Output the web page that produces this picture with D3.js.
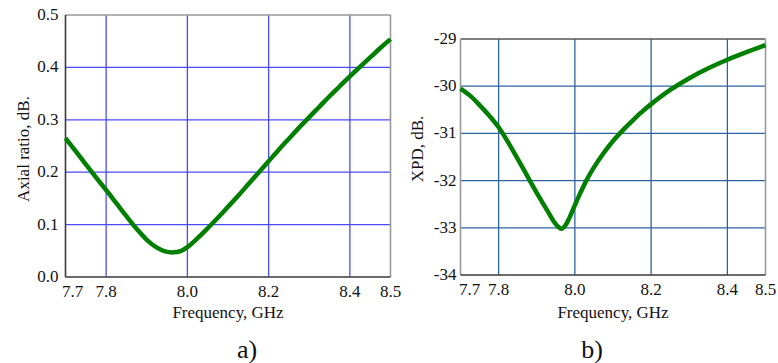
<!DOCTYPE html>
<html>
<head>
<meta charset="utf-8">
<script src="https://cdn.jsdelivr.net/npm/d3@7"></script>
<style>
  body { margin: 0; background: #fff; }
  svg text { font-family: "Liberation Serif", "DejaVu Serif", serif; fill: #111; }
</style>
</head>
<body>
<svg id="chart" width="778" height="363"></svg>
<script>
// frequency grid, GHz
const freqAR = [7.7, 7.725, 7.75, 7.775, 7.8, 7.825, 7.85, 7.875, 7.9, 7.925, 7.945, 7.965, 7.985, 8.0,
  8.025, 8.05, 8.075, 8.1, 8.125, 8.15, 8.175, 8.2, 8.225, 8.25, 8.275, 8.3, 8.325, 8.35, 8.375, 8.4,
  8.425, 8.45, 8.475, 8.5];
const axialRatio = [0.265, 0.240, 0.215, 0.190, 0.166, 0.141, 0.116, 0.092, 0.071, 0.056, 0.049, 0.047, 0.050, 0.057,
  0.074, 0.093, 0.113, 0.134, 0.155, 0.177, 0.199, 0.221, 0.243, 0.264, 0.285, 0.305, 0.325, 0.345, 0.364, 0.383,
  0.401, 0.419, 0.437, 0.454];

const freqXPD = [7.7, 7.725, 7.75, 7.775, 7.8, 7.825, 7.85, 7.875, 7.9, 7.925, 7.945, 7.955, 7.965, 7.975, 7.985,
  8.0, 8.015, 8.03, 8.05, 8.075, 8.1, 8.125, 8.15, 8.175, 8.2, 8.25, 8.3, 8.35, 8.4, 8.45, 8.5];
const xpd = [-30.05, -30.2, -30.4, -30.62, -30.87, -31.19, -31.54, -31.9, -32.26, -32.6, -32.87, -32.97, -33.02, -32.95, -32.8,
  -32.52, -32.25, -32.0, -31.72, -31.42, -31.16, -30.94, -30.74, -30.55, -30.38, -30.08, -29.83, -29.62, -29.44, -29.28, -29.13];

const xTicks = [7.7, 7.8, 8.0, 8.2, 8.4, 8.5];
const xGrid = [7.8, 8.0, 8.2, 8.4];
const arTicks = [0.0, 0.1, 0.2, 0.3, 0.4, 0.5];
const xpdTicks = [-34, -33, -32, -31, -30, -29];

const svg = d3.select("#chart");
const serif = '"Liberation Serif", "DejaVu Serif", serif';

function drawPanel(p) {
  const x = d3.scaleLinear().domain([7.7, 8.5]).range([p.left, p.right]);
  const y = d3.scaleLinear().domain(p.yDomain).range([p.bottom, p.top]);
  const g = svg.append("g").attr("font-family", serif);

  // grid
  g.selectAll(".vg").data(xGrid).enter().append("line")
    .attr("x1", (d) => x(d)).attr("x2", (d) => x(d))
    .attr("y1", p.top).attr("y2", p.bottom)
    .attr("stroke", p.grid).attr("stroke-width", 1.3);
  g.selectAll(".hg").data(p.yTicks.slice(1, -1)).enter().append("line")
    .attr("x1", p.left).attr("x2", p.right)
    .attr("y1", (d) => y(d)).attr("y2", (d) => y(d))
    .attr("stroke", p.grid).attr("stroke-width", 1.3);

  // frame
  g.append("line").attr("x1", p.left).attr("x2", p.right).attr("y1", p.top).attr("y2", p.top)
    .attr("stroke", p.topColor).attr("stroke-width", 1.6);
  g.append("line").attr("x1", p.right).attr("x2", p.right).attr("y1", p.top).attr("y2", p.bottom)
    .attr("stroke", p.rightColor).attr("stroke-width", 1.6);
  g.append("line").attr("x1", p.left).attr("x2", p.left).attr("y1", p.top).attr("y2", p.bottom)
    .attr("stroke", p.leftColor).attr("stroke-width", 1.6);
  g.append("line").attr("x1", p.left).attr("x2", p.right).attr("y1", p.bottom).attr("y2", p.bottom)
    .attr("stroke", "#3a3a3a").attr("stroke-width", 1.6);

  // curve
  const line = d3.line()
    .x((d) => x(d[0]))
    .y((d) => y(d[1]))
    .curve(d3.curveCatmullRom);
  g.append("path")
    .datum(p.xs.map((f, i) => [f, p.ys[i]]))
    .attr("d", line)
    .attr("fill", "none")
    .attr("stroke", "#007f00")
    .attr("stroke-width", 4.5)
    .attr("stroke-linejoin", "round");

  // x tick labels
  g.selectAll(".xt").data(xTicks).enter().append("text")
    .attr("x", (d) => x(d) + (d === 7.7 ? p.firstShift : 0))
    .attr("y", p.bottom + 20)
    .attr("text-anchor", "middle")
    .attr("font-size", 17)
    .text((d) => d.toFixed(1));

  // y tick labels
  g.selectAll(".yt").data(p.yTicks).enter().append("text")
    .attr("x", p.left - p.yLabelGap)
    .attr("y", (d) => y(d) + 5)
    .attr("text-anchor", "end")
    .attr("font-size", 17)
    .text(p.fmt);

  // axis titles
  g.append("text")
    .attr("x", (p.left + p.right) / 2)
    .attr("y", 318)
    .attr("text-anchor", "middle")
    .attr("font-size", 17)
    .text("Frequency, GHz");
  g.append("text")
    .attr("transform", `translate(${p.titleX},${p.titleY}) rotate(-90)`)
    .attr("text-anchor", "middle")
    .attr("dominant-baseline", "central")
    .attr("font-size", 17)
    .text(p.yTitle);

  g.append("text")
    .attr("x", p.capX)
    .attr("y", 358)
    .attr("text-anchor", "middle")
    .attr("font-size", 26)
    .text(p.caption);
}

drawPanel({
  left: 65.5, right: 390.5, top: 15, bottom: 277,
  yDomain: [0, 0.5], yTicks: arTicks, fmt: (d) => d.toFixed(1),
  xs: freqAR, ys: axialRatio,
  grid: "#4a4aff", topColor: "#999", rightColor: "#999", leftColor: "#3a3a3a",
  firstShift: 7, yLabelGap: 7,
  yTitle: "Axial ratio, dB.", titleX: 23, titleY: 149,
  caption: "a)", capX: 247,
});

drawPanel({
  left: 460.5, right: 765.5, top: 39, bottom: 275,
  yDomain: [-34, -29], yTicks: xpdTicks, fmt: (d) => String(d),
  xs: freqXPD, ys: xpd,
  grid: "#2d62a3", topColor: "#555", rightColor: "#999", leftColor: "#999",
  firstShift: 9, yLabelGap: 4,
  yTitle: "XPD, dB.", titleX: 417, titleY: 149,
  caption: "b)", capX: 592,
});
</script>
</body>
</html>
